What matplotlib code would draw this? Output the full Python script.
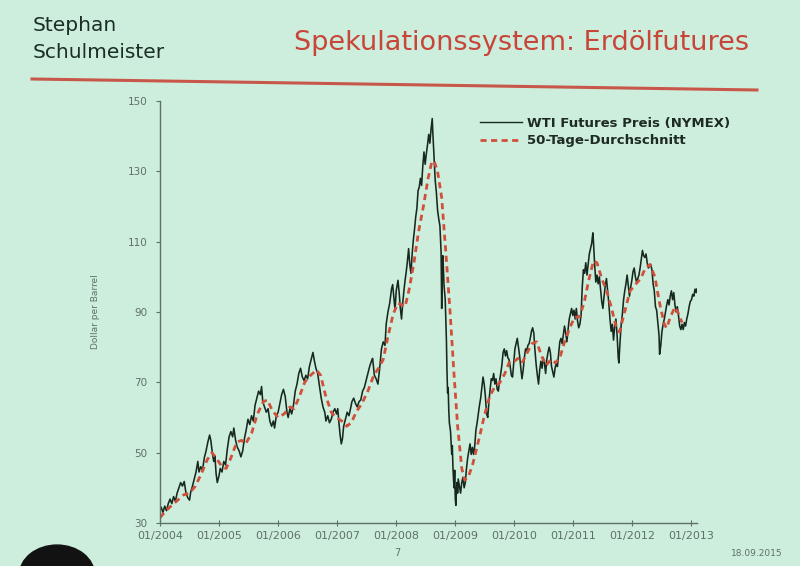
import matplotlib
matplotlib.use("Agg")
import matplotlib.pyplot as plt
from matplotlib.patches import Ellipse
from matplotlib.lines import Line2D

# WTI futures price (decimal year, dollar per barrel)
price_t = [
    2004.00, 2004.02, 2004.05, 2004.08, 2004.11, 2004.14, 2004.17, 2004.20, 2004.23, 2004.26,
    2004.29, 2004.32, 2004.35, 2004.38, 2004.41, 2004.44, 2004.47, 2004.50, 2004.52, 2004.55,
    2004.58, 2004.61, 2004.64, 2004.66, 2004.69, 2004.72, 2004.75, 2004.78, 2004.81, 2004.84,
    2004.86, 2004.89, 2004.91, 2004.93, 2004.95, 2004.97, 2005.00, 2005.02, 2005.05, 2005.08,
    2005.11, 2005.14, 2005.17, 2005.20, 2005.23, 2005.25, 2005.28, 2005.31, 2005.34, 2005.37,
    2005.40, 2005.43, 2005.46, 2005.49, 2005.52, 2005.55, 2005.58, 2005.61, 2005.64, 2005.67,
    2005.70, 2005.72, 2005.74, 2005.77, 2005.80, 2005.83, 2005.86, 2005.89, 2005.92, 2005.94,
    2005.97, 2006.00, 2006.03, 2006.06, 2006.09, 2006.12, 2006.15, 2006.17, 2006.20, 2006.23,
    2006.26, 2006.29, 2006.32, 2006.35, 2006.38, 2006.41, 2006.44, 2006.47, 2006.50, 2006.53,
    2006.56, 2006.59, 2006.61, 2006.64, 2006.67, 2006.70, 2006.73, 2006.76, 2006.79, 2006.81,
    2006.84, 2006.87, 2006.90, 2006.93, 2006.96, 2006.99, 2007.01, 2007.03, 2007.05, 2007.07,
    2007.09, 2007.11, 2007.14, 2007.17, 2007.20, 2007.22, 2007.25, 2007.28, 2007.31, 2007.34,
    2007.37, 2007.40, 2007.43, 2007.46, 2007.49, 2007.52, 2007.55, 2007.58, 2007.60, 2007.63,
    2007.66, 2007.69, 2007.72, 2007.75, 2007.78, 2007.81, 2007.83, 2007.86, 2007.89, 2007.92,
    2007.94, 2007.96, 2007.98, 2008.00, 2008.03, 2008.05, 2008.07, 2008.09, 2008.11, 2008.13,
    2008.15, 2008.17, 2008.19, 2008.21, 2008.23, 2008.25, 2008.27, 2008.29, 2008.31, 2008.33,
    2008.35, 2008.37, 2008.39, 2008.41, 2008.43, 2008.45, 2008.47, 2008.49, 2008.51, 2008.53,
    2008.55, 2008.57, 2008.59, 2008.61, 2008.62, 2008.64, 2008.66, 2008.68, 2008.70, 2008.72,
    2008.74, 2008.76, 2008.77, 2008.78, 2008.79, 2008.81, 2008.83, 2008.85, 2008.86, 2008.87,
    2008.88, 2008.89, 2008.90, 2008.92, 2008.93, 2008.94, 2008.95, 2008.96, 2008.97, 2008.98,
    2008.99, 2009.00, 2009.01, 2009.02, 2009.03, 2009.04, 2009.05, 2009.07, 2009.09, 2009.11,
    2009.13, 2009.15, 2009.17, 2009.19, 2009.21, 2009.23, 2009.25, 2009.27, 2009.29, 2009.31,
    2009.33, 2009.35, 2009.37, 2009.39, 2009.41, 2009.43, 2009.45, 2009.47, 2009.49, 2009.51,
    2009.53, 2009.55, 2009.57, 2009.59, 2009.61, 2009.63, 2009.65, 2009.67, 2009.69, 2009.71,
    2009.73, 2009.75, 2009.77, 2009.79, 2009.81, 2009.83, 2009.85, 2009.87, 2009.89, 2009.91,
    2009.93, 2009.95, 2009.97, 2009.99, 2010.01, 2010.03, 2010.05, 2010.07, 2010.09, 2010.11,
    2010.13, 2010.15, 2010.17, 2010.19, 2010.21, 2010.23, 2010.25, 2010.27, 2010.29, 2010.31,
    2010.33, 2010.35, 2010.37, 2010.39, 2010.41, 2010.43, 2010.45, 2010.47, 2010.49, 2010.51,
    2010.53, 2010.55, 2010.57, 2010.59, 2010.61, 2010.63, 2010.65, 2010.67, 2010.69, 2010.71,
    2010.73, 2010.75, 2010.77, 2010.79, 2010.81, 2010.83, 2010.85, 2010.87, 2010.89, 2010.91,
    2010.93, 2010.95, 2010.97, 2010.99, 2011.01, 2011.03, 2011.05, 2011.07, 2011.09, 2011.11,
    2011.13, 2011.15, 2011.17, 2011.19, 2011.21, 2011.23, 2011.25, 2011.27, 2011.29, 2011.31,
    2011.33, 2011.34, 2011.36, 2011.38, 2011.40, 2011.42, 2011.44, 2011.46, 2011.48, 2011.50,
    2011.52, 2011.54, 2011.56, 2011.58, 2011.60, 2011.62, 2011.64, 2011.66, 2011.68, 2011.70,
    2011.72, 2011.74, 2011.76, 2011.77, 2011.79, 2011.81, 2011.83, 2011.85, 2011.87, 2011.89,
    2011.91, 2011.93, 2011.95, 2011.97, 2011.99, 2012.01, 2012.03, 2012.05, 2012.07, 2012.09,
    2012.11, 2012.13, 2012.15, 2012.17, 2012.19, 2012.21, 2012.23, 2012.25, 2012.27, 2012.29,
    2012.31, 2012.33, 2012.35, 2012.37, 2012.39, 2012.41, 2012.43, 2012.45, 2012.46, 2012.48,
    2012.50, 2012.52, 2012.54, 2012.56, 2012.58, 2012.60, 2012.62, 2012.64, 2012.66, 2012.68,
    2012.70, 2012.72, 2012.74, 2012.76, 2012.78, 2012.80, 2012.82, 2012.84, 2012.86, 2012.88,
    2012.90, 2012.92, 2012.94, 2012.96, 2012.98, 2013.00, 2013.02, 2013.04, 2013.06, 2013.08,
    2013.09,
]
price = [
    33.5, 34.5, 33.0, 34.8, 33.5, 35.5, 36.8, 35.5, 37.5, 36.2,
    38.5, 40.0, 41.5, 40.5, 41.8, 38.5, 37.2, 36.5, 38.8, 40.5,
    42.5, 44.5, 47.5, 44.5, 46.0, 45.0, 48.5, 50.5, 53.0, 55.0,
    53.5, 49.5, 47.5, 49.0, 44.0, 41.5, 43.5, 45.5, 44.5, 47.5,
    46.5, 51.0, 54.5, 56.0, 54.5, 57.0, 53.5, 51.5, 50.5, 48.8,
    50.5, 54.0, 56.5, 59.5, 58.0, 60.5, 59.0, 63.5, 65.5, 67.5,
    66.5, 68.8, 64.5, 63.0, 61.5, 62.5, 59.0, 57.5, 59.0, 57.0,
    60.5, 61.5, 64.0, 66.5, 68.0, 66.0, 61.5, 60.0, 62.5, 61.0,
    63.5, 67.5, 69.5, 72.5, 74.0, 71.5, 70.5, 72.0, 71.0, 74.5,
    76.5, 78.5, 76.5, 74.0, 72.5, 69.0, 65.5, 63.0, 61.5, 59.0,
    60.5, 58.5, 59.5, 61.5, 62.5, 61.0, 62.5, 58.5, 55.0, 52.5,
    54.0, 57.5, 59.5, 61.5, 60.5, 62.0, 64.5, 65.5, 64.0, 63.0,
    64.5, 65.0, 67.5, 68.5, 70.5, 72.5, 74.5, 76.0, 76.8, 72.0,
    71.0, 69.5, 74.0, 79.5, 81.5, 80.5, 86.5, 90.0, 92.5, 96.5,
    97.8, 94.0, 90.5, 96.0, 99.0, 95.5, 91.0, 88.0, 92.5, 96.0,
    99.0, 101.5, 104.5, 108.0, 103.5, 101.0, 106.5, 110.5, 113.5, 117.0,
    119.5, 124.5, 125.5, 128.0, 126.0, 131.5, 135.5, 132.0, 135.0, 137.5,
    140.5, 138.0, 142.0, 145.0, 141.0, 134.5, 127.5, 124.0, 119.0, 116.5,
    114.5, 107.0, 91.0, 104.5, 106.0, 97.5, 93.5, 82.0, 73.0, 67.0,
    68.5, 62.0, 58.5, 56.0, 53.0, 49.5, 52.0, 46.0, 42.5, 40.0,
    45.0, 37.0, 35.0, 39.5, 41.5, 38.5, 42.5, 40.5, 38.5, 41.5,
    43.0, 40.0, 41.5, 45.5, 48.5, 50.5, 52.5, 49.5, 51.5, 49.5,
    52.0, 56.5, 58.5, 61.0, 63.5, 65.5, 68.5, 71.5, 69.5, 66.0,
    61.0, 60.0, 64.5, 68.0, 71.0, 70.5, 72.5, 69.5, 71.0, 68.0,
    67.5, 70.5, 72.5, 75.0, 78.5, 79.5, 77.5, 79.0, 77.0, 76.5,
    74.5, 72.0, 71.5, 75.5, 79.5, 81.0, 82.5, 80.0, 77.5, 74.0,
    71.0, 73.5, 77.0, 79.5, 79.0, 80.5, 81.0, 82.5, 84.5, 85.5,
    84.0, 79.0, 75.0, 72.0, 69.5, 73.5, 76.0, 74.0, 77.0, 75.5,
    72.5, 76.5, 78.5, 80.0, 78.5, 74.5, 73.0, 71.5, 74.0, 75.5,
    74.5, 78.0, 81.5, 82.5, 81.0, 83.5, 86.0, 84.0, 81.5, 85.0,
    88.0, 89.5, 91.0, 89.0, 90.5, 88.0, 91.0, 87.5, 85.5, 86.5,
    89.0, 97.0, 102.0, 101.0, 104.0, 100.5, 103.5, 106.5, 108.0, 109.5,
    112.5, 110.0, 103.5, 98.5, 100.5, 98.0, 100.0, 96.5, 93.0, 91.0,
    94.5, 97.5, 99.5, 96.0, 92.5, 88.0, 84.5, 86.5, 82.0, 86.0,
    88.0, 83.5, 77.0, 75.5, 81.5, 86.5, 89.5, 93.5, 96.0, 98.0,
    100.5, 97.5, 94.5, 97.0, 99.0, 101.5, 102.5, 100.0, 98.5, 99.5,
    100.5, 102.5, 105.0, 107.5, 106.0, 105.5, 106.5, 104.0, 102.5, 103.0,
    103.5, 102.0, 98.0, 96.0, 91.5, 90.5, 87.0, 83.5, 78.0, 80.5,
    84.5, 86.5, 88.0, 90.0, 92.0, 93.5, 92.0, 94.5, 96.0, 93.5,
    95.5, 92.0, 90.0, 91.5, 89.0, 86.0, 85.0, 86.5, 85.0, 87.0,
    86.0, 88.0, 89.5, 91.5, 93.0, 93.5, 95.0, 94.5, 96.5, 95.5,
    96.5,
]

# 50-day average
ma_t = [
    2004.00, 2004.10, 2004.20, 2004.30, 2004.40, 2004.50, 2004.60, 2004.70, 2004.80, 2004.88,
    2004.95, 2005.05, 2005.12, 2005.20, 2005.30, 2005.38, 2005.45, 2005.55, 2005.65, 2005.75,
    2005.82, 2005.90, 2006.00, 2006.10, 2006.20, 2006.27, 2006.35, 2006.45, 2006.55, 2006.65,
    2006.72, 2006.80, 2006.90, 2006.98, 2007.08, 2007.16, 2007.24, 2007.32, 2007.42, 2007.52,
    2007.62, 2007.70, 2007.78, 2007.86, 2007.95, 2008.03, 2008.10, 2008.15, 2008.22, 2008.30,
    2008.38, 2008.46, 2008.54, 2008.60, 2008.64, 2008.70, 2008.77, 2008.84, 2008.91, 2008.98,
    2009.04, 2009.11, 2009.16, 2009.22, 2009.30, 2009.41, 2009.50, 2009.58, 2009.66, 2009.75,
    2009.84, 2009.92, 2010.00, 2010.08, 2010.14, 2010.22, 2010.30, 2010.38, 2010.46, 2010.54,
    2010.62, 2010.70, 2010.78, 2010.86, 2010.94, 2011.02, 2011.10, 2011.18, 2011.26, 2011.34,
    2011.40, 2011.48, 2011.56, 2011.64, 2011.72, 2011.78, 2011.86, 2011.96, 2012.06, 2012.14,
    2012.22, 2012.30, 2012.38, 2012.46, 2012.54, 2012.58, 2012.64, 2012.72, 2012.78, 2012.84,
]
ma = [
    31.5, 33.5, 35.0, 36.5, 38.0, 38.5, 40.5, 44.0, 48.0, 50.0,
    48.5, 46.0, 45.5, 48.5, 53.0, 53.5, 52.5, 55.5, 61.0, 64.5,
    65.0, 62.0, 60.0, 61.0, 63.0, 62.5, 65.5, 70.0, 72.0, 73.5,
    72.0, 66.5, 61.5, 60.0, 59.0, 57.5, 58.5, 61.5, 64.0, 67.5,
    72.0, 74.0, 76.5, 83.0, 89.5, 92.5, 92.0, 91.5, 96.5, 104.0,
    113.0, 120.0, 128.0, 132.5, 133.0, 130.0, 122.5, 107.0, 90.5, 72.0,
    57.5, 45.5, 42.2, 43.0, 47.0, 54.5, 61.0, 65.8, 68.5, 69.8,
    72.5, 76.0, 76.0, 77.0, 75.8, 78.5, 81.0, 81.5, 77.5, 74.8,
    76.5, 75.5, 77.5, 82.0, 85.5, 88.5, 88.6, 92.5, 99.0, 104.5,
    104.0, 99.5, 96.2, 91.5, 86.0, 84.3, 89.5, 96.0, 98.0, 99.5,
    102.5, 103.5, 100.0, 92.5, 86.5, 85.4, 88.5, 91.4, 89.5, 87.0,
]

year_ticks = [2004, 2005, 2006, 2007, 2008, 2009, 2010, 2011, 2012, 2013]
year_labels = ["01/2004", "01/2005", "01/2006", "01/2007", "01/2008",
               "01/2009", "01/2010", "01/2011", "01/2012", "01/2013"]
y_ticks = [30, 50, 70, 90, 110, 130, 150]

bg = "#cdeedc"
axis_col = "#5f7068"

fig = plt.figure(figsize=(8, 5.66), dpi=100, facecolor=bg)
ax = fig.add_axes([0.2, 0.076, 0.671, 0.7456])
ax.set_facecolor(bg)

ax.plot(price_t, price, color="#17291f", lw=1.15)
ax.plot(ma_t, ma, color="#d0503c", lw=2.0, ls=(0, (2.2, 1.6)))

ax.set_xlim(2004.0, 2013.09)
ax.set_ylim(30, 150)
ax.set_xticks(year_ticks)
ax.set_xticklabels(year_labels)
ax.set_yticks(y_ticks)
for s in ["top", "right"]:
    ax.spines[s].set_visible(False)
for s in ["left", "bottom"]:
    ax.spines[s].set_color(axis_col)
    ax.spines[s].set_linewidth(1.0)
ax.tick_params(axis="x", direction="inout", length=4, colors=axis_col, labelsize=8, pad=4)
ax.tick_params(axis="y", direction="out", length=3, colors=axis_col, labelsize=7.5, pad=6)
ax.set_ylabel("Dollar per Barrel", fontsize=6.5, color=axis_col, labelpad=20)

# legend drawn by hand so it sits where the slide has it
legend_items = [
    Line2D([0], [0], color="#17291f", lw=1.0),
    Line2D([0], [0], color="#d0503c", lw=2.0, ls=(0, (2.2, 1.6))),
]
fig.legend(legend_items, ["WTI Futures Preis (NYMEX)", "50-Tage-Durchschnitt"],
           loc="upper left", bbox_to_anchor=(0.585, 0.815), frameon=False,
           handlelength=3.2, handletextpad=0.4, labelspacing=0.35,
           prop={"size": 9.5, "weight": "bold"}, labelcolor="#1e2a24")

# slide header
fig.text(0.041, 0.955, "Stephan", fontsize=14.5, color="#1b2e25", va="center", ha="left")
fig.text(0.041, 0.907, "Schulmeister", fontsize=14.5, color="#1b2e25", va="center", ha="left")
fig.text(0.652, 0.924, "Spekulationssystem: Erdölfutures", fontsize=19.5,
         color="#c8453a", va="center", ha="center")
fig.add_artist(Line2D([32 / 800, 757 / 800], [1 - 79 / 566, 1 - 90 / 566],
                      color="#c8574a", lw=2.2, transform=fig.transFigure))

# slide footer
fig.text(397 / 800, 1 - 553 / 566, "7", fontsize=7, color=axis_col, ha="center", va="center")
fig.text(757 / 800, 1 - 553 / 566, "18.09.2015", fontsize=6.5, color=axis_col,
         ha="center", va="center")

# dark shape in the lower left corner of the photo
fig.add_artist(Ellipse((57 / 800, -0.016), 0.094, 0.106, color="#121212",
                       transform=fig.transFigure))

fig.savefig("out.png", dpi=100, facecolor=bg)
